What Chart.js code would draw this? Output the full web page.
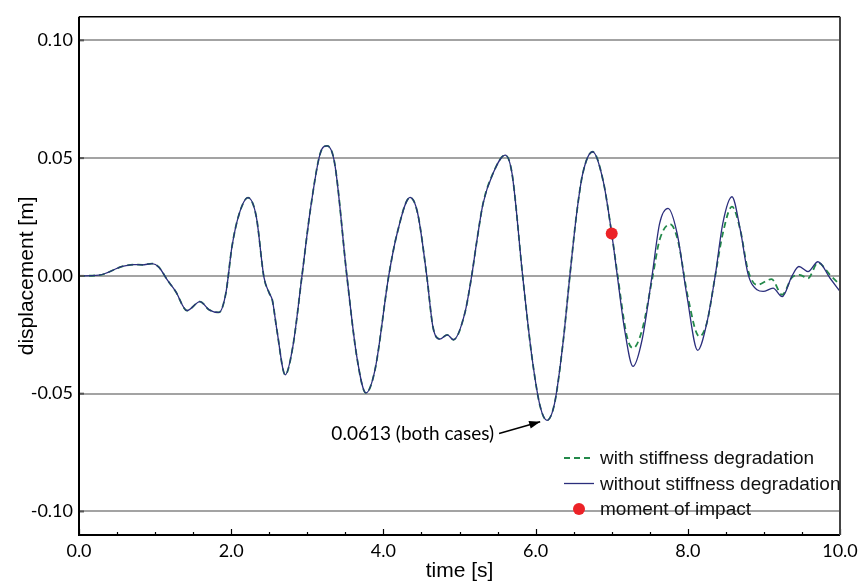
<!DOCTYPE html>
<html>
<head>
<meta charset="utf-8">
<script src="https://cdn.jsdelivr.net/npm/chart.js@4"></script>
<style>
  html, body { margin: 0; padding: 0; background: #fff; }
  #wrap { width: 859px; height: 581px; }
</style>
</head>
<body>
<div id="wrap"><canvas id="dispChart" width="859" height="581"></canvas></div>
<script>
// Response history (time in s, displacement in m)
// Shared part: both cases coincide until the moment of impact
const timeShared = [0.0, 0.26, 0.57, 0.72, 0.83, 0.96, 1.05, 1.16, 1.27, 1.42, 1.59, 1.71, 1.84, 1.93,
  2.01, 2.10, 2.22, 2.33, 2.43, 2.50, 2.54, 2.60, 2.71, 2.81, 2.93, 3.04, 3.17, 3.26, 3.36, 3.52,
  3.65, 3.77, 3.89, 4.07, 4.18, 4.35, 4.45, 4.57, 4.65, 4.74, 4.84, 4.92, 5.07, 5.16, 5.23, 5.31,
  5.44, 5.60, 5.69, 5.83, 5.95, 6.06, 6.15, 6.25, 6.36, 6.45, 6.54, 6.62, 6.75, 6.89, 7.00];
const dispShared = [0.0, 0.0003, 0.004, 0.0048, 0.0047, 0.0052, 0.0037, -0.0017, -0.0066, -0.0147, -0.0109, -0.0144, -0.0155, -0.0073,
  0.0124, 0.0258, 0.0332, 0.0251, -0.0005, -0.0073, -0.0102, -0.0229, -0.042, -0.030, 0.0, 0.028, 0.052, 0.0552, 0.0477, 0.0,
  -0.0342, -0.0497, -0.0398, 0.0, 0.018, 0.0333, 0.0266, 0.0, -0.0215, -0.0268, -0.025, -0.0271, -0.0158, 0.0, 0.0153, 0.0308,
  0.0435, 0.0513, 0.0435, 0.0, -0.034, -0.0554, -0.0613, -0.054, -0.0285, 0.0, 0.0266, 0.0435, 0.0527, 0.040, 0.018];

// After impact: without stiffness degradation
const timeAfterWithout = [7.07, 7.17, 7.28, 7.40, 7.53, 7.63, 7.74, 7.86, 7.99, 8.13, 8.25, 8.36, 8.46, 8.58,
  8.69, 8.79, 8.91, 8.99, 9.12, 9.24, 9.37, 9.46, 9.58, 9.71, 9.87, 10.0];
const dispAfterWithout = [0.001, -0.0229, -0.0384, -0.027, 0.0, 0.0223, 0.0287, 0.018, -0.0088, -0.0316, -0.02, 0.0, 0.0223, 0.0336,
  0.0195, 0.001, -0.0059, -0.0066, -0.0052, -0.0088, 0.0, 0.004, 0.0018, 0.006, -0.001, -0.0066];

// After impact: with stiffness degradation
const timeAfterWith = [7.07, 7.20, 7.28, 7.40, 7.53, 7.63, 7.77, 7.87, 8.00, 8.15, 8.25, 8.36, 8.46, 8.58,
  8.69, 8.79, 8.91, 9.10, 9.24, 9.37, 9.47, 9.58, 9.71, 9.87, 10.0];
const dispAfterWith = [0.002, -0.0257, -0.0307, -0.0229, -0.0017, 0.0153, 0.0219, 0.015, -0.0088, -0.0257, -0.02, 0.0, 0.018, 0.0294,
  0.0195, 0.0025, -0.0038, -0.0014, -0.008, -0.0006, 0.0004, -0.001, 0.0056, 0.0004, -0.0038];

const impactTime = 7.0;
const impactDisp = 0.018;

const peakLabel = '0.0613 (both cases)';
const xTickStep = 0.5;
const yTickStep = 0.05;

function toPoints(ts, ds) {
  return ts.map((t, i) => ({ x: t, y: ds[i] }));
}

const withPoints = toPoints(timeShared.concat(timeAfterWith), dispShared.concat(dispAfterWith));
const withoutPoints = toPoints(timeShared.concat(timeAfterWithout), dispShared.concat(dispAfterWithout));

const NOTE_FONT = '19px Lato';
const LEGEND_FONT = '19px "Liberation Sans"';

// frame, inner ticks, peak annotation and legend
const decorPlugin = {
  id: 'decor',
  afterDraw(chart) {
    const { ctx, chartArea: ca, scales } = chart;
    const xs = scales.x, ys = scales.y;
    ctx.save();

    // inner tick marks on x axis
    ctx.strokeStyle = '#000';
    ctx.lineWidth = 1.2;
    xs.ticks.forEach(t => {
      const px = Math.round(xs.getPixelForValue(t.value)) + 0.5;
      const len = (Math.abs(t.value % 2) < 1e-9) ? 6 : 3;
      ctx.beginPath();
      ctx.moveTo(px, ca.bottom);
      ctx.lineTo(px, ca.bottom - len);
      ctx.stroke();
    });
    // short dark tick on y grid lines
    ctx.strokeStyle = '#555';
    ctx.lineWidth = 2;
    ys.ticks.forEach(t => {
      const py = ys.getPixelForValue(t.value);
      ctx.beginPath();
      ctx.moveTo(ca.left, py);
      ctx.lineTo(ca.left + 5, py);
      ctx.stroke();
    });

    // frame
    ctx.strokeStyle = '#000';
    ctx.lineWidth = 1.5;
    ctx.beginPath();
    ctx.moveTo(ca.left, ca.top);
    ctx.lineTo(ca.right, ca.top);
    ctx.stroke();
    ctx.lineWidth = 2;
    ctx.beginPath();
    ctx.moveTo(ca.left, ca.top);
    ctx.lineTo(ca.left, ca.bottom);
    ctx.lineTo(ca.right, ca.bottom);
    ctx.stroke();
    ctx.strokeStyle = '#444';
    ctx.beginPath();
    ctx.moveTo(ca.right, ca.top);
    ctx.lineTo(ca.right, ca.bottom);
    ctx.stroke();

    // peak annotation with arrow
    const headX = xs.getPixelForValue(6.06), headY = ys.getPixelForValue(-0.0619);
    const tailX = xs.getPixelForValue(5.52), tailY = ys.getPixelForValue(-0.0669);
    ctx.strokeStyle = '#000';
    ctx.fillStyle = '#000';
    ctx.lineWidth = 1.5;
    ctx.beginPath();
    ctx.moveTo(tailX, tailY);
    ctx.lineTo(headX, headY);
    ctx.stroke();
    const ang = Math.atan2(headY - tailY, headX - tailX);
    ctx.beginPath();
    ctx.moveTo(headX, headY);
    ctx.lineTo(headX - 11 * Math.cos(ang) + 4 * Math.sin(ang), headY - 11 * Math.sin(ang) - 4 * Math.cos(ang));
    ctx.lineTo(headX - 11 * Math.cos(ang) - 4 * Math.sin(ang), headY - 11 * Math.sin(ang) + 4 * Math.cos(ang));
    ctx.closePath();
    ctx.fill();
    ctx.font = NOTE_FONT;
    ctx.textAlign = 'right';
    ctx.textBaseline = 'middle';
    ctx.fillText(peakLabel, tailX - 5, tailY);

    // legend, bottom right inside plot
    const lx = 564, ly = 458, rowH = 25.5;
    ctx.font = LEGEND_FONT;
    ctx.textAlign = 'left';
    chart.data.datasets.forEach((ds, i) => {
      const y = ly + i * rowH;
      if (ds.showLine === false) {
        ctx.fillStyle = ds.backgroundColor;
        ctx.beginPath();
        ctx.arc(lx + 15, y, 6, 0, Math.PI * 2);
        ctx.fill();
      } else {
        ctx.strokeStyle = ds.borderColor;
        ctx.lineWidth = ds.borderWidth;
        ctx.setLineDash(ds.borderDash || []);
        ctx.beginPath();
        ctx.moveTo(lx, y);
        ctx.lineTo(lx + 30, y);
        ctx.stroke();
        ctx.setLineDash([]);
      }
      ctx.fillStyle = '#111';
      ctx.fillText(ds.label, lx + 36, y + 1);
    });
    ctx.restore();
  }
};

const ctx = document.getElementById('dispChart').getContext('2d');
const dispChart = new Chart(ctx, {
  type: 'line',
  data: {
    datasets: [{
      label: 'with stiffness degradation',
      data: withPoints,
      borderColor: '#23894a',
      borderWidth: 1.8,
      borderDash: [6, 4],
      pointRadius: 0,
      cubicInterpolationMode: 'monotone',
      order: 3
    }, {
      label: 'without stiffness degradation',
      data: withoutPoints,
      borderColor: '#2b2e7c',
      borderWidth: 1.3,
      pointRadius: 0,
      cubicInterpolationMode: 'monotone',
      order: 2
    }, {
      label: 'moment of impact',
      data: [{ x: impactTime, y: impactDisp }],
      showLine: false,
      backgroundColor: '#ec2227',
      borderColor: '#ec2227',
      pointRadius: 6,
      pointBorderWidth: 0,
      order: 1
    }]
  },
  options: {
    responsive: false,
    animation: false,
    events: [],
    layout: { padding: { top: 16, right: 19, left: 0, bottom: 0 } },
    plugins: {
      legend: { display: false },
      tooltip: { enabled: false }
    },
    scales: {
      x: {
        type: 'linear',
        min: 0,
        max: 10,
        grid: { display: false, drawTicks: false },
        border: { display: false },
        ticks: {
          stepSize: xTickStep,
          autoSkip: false,
          maxRotation: 0,
          padding: 5,
          color: '#000',
          font: { family: 'Lato', size: 18 },
          callback: v => (Math.abs(v % 2) < 1e-9 ? v.toFixed(1) : '')
        },
        title: {
          display: true,
          text: 'time [s]',
          color: '#000',
          font: { family: 'Liberation Sans', size: 21 },
          padding: { top: 0, bottom: -3 }
        },
        afterFit: s => {
          s.height = 46;
          s.paddingLeft = 0;
          s.paddingRight = 0;
        }
      },
      y: {
        min: -0.11,
        max: 0.11,
        grid: { color: '#a3a3a3', lineWidth: 2, drawTicks: false },
        border: { display: false },
        ticks: {
          stepSize: yTickStep,
          includeBounds: false,
          padding: 6,
          color: '#000',
          font: { family: 'Lato', size: 18 },
          callback: v => (Math.abs(v) < 1e-9 ? '0.00' : v.toFixed(2))
        },
        title: {
          display: true,
          text: 'displacement [m]',
          color: '#000',
          font: { family: 'Liberation Sans', size: 21 },
          padding: { top: 15, bottom: 0 }
        },
        afterFit: s => { s.width = 79; }
      }
    }
  },
  plugins: [decorPlugin]
});
</script>
</body>
</html>
